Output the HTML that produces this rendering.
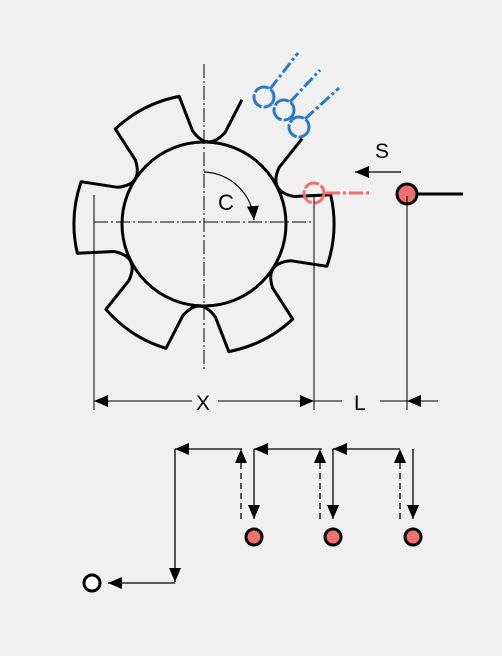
<!DOCTYPE html>
<html><head><meta charset="utf-8"><style>
html,body{margin:0;padding:0;background:#f0f0f0;}
svg{display:block;}
text{font-family:"Liberation Sans",sans-serif;}
</style></head><body>
<svg id="svg" width="502" height="656" viewBox="0 0 502 656" xmlns="http://www.w3.org/2000/svg">
<defs>
<marker id="ah" markerWidth="10" markerHeight="8" refX="10" refY="4" orient="auto" markerUnits="userSpaceOnUse"><path d="M0,0 L10,4 L0,8 z" fill="#000"/></marker>
<marker id="ahb" markerWidth="14" markerHeight="12" refX="14" refY="6" orient="auto" markerUnits="userSpaceOnUse"><path d="M0,0 L14,6 L0,12 z" fill="#000"/></marker>
</defs>
<rect width="502" height="656" fill="#f0f0f0"/>
<line x1="204" y1="64" x2="204" y2="372" stroke="#000" stroke-width="1" stroke-dasharray="14,3,2,3"/>
<line x1="94" y1="222" x2="314" y2="222" stroke="#000" stroke-width="1" stroke-dasharray="14,3,2,3"/>
<path id="gear" fill="none" stroke="#000" stroke-width="3" stroke-linejoin="round"/>
<circle cx="204" cy="224" r="82" fill="none" stroke="#000" stroke-width="3"/>
<path d="M204,172 A52,52 0 0 1 254,220" fill="none" stroke="#000" stroke-width="1.2" marker-end="url(#ahb)"/>
<text x="218" y="210" font-size="22">C</text>
<g stroke="#2a7bc4" stroke-width="3" fill="none">
<line x1="270" y1="89" x2="298" y2="53" stroke-dasharray="12,3,3,3"/>
<line x1="290" y1="102" x2="320" y2="70" stroke-dasharray="12,3,3,3"/>
<line x1="305" y1="119" x2="339" y2="88" stroke-dasharray="12,3,3,3"/>
<circle cx="264" cy="97" r="10" stroke-dasharray="16,2"/>
<circle cx="284" cy="110" r="10" stroke-dasharray="16,2"/>
<circle cx="299" cy="127" r="10" stroke-dasharray="16,2"/>
</g>
<g stroke="#f07070" stroke-width="3" fill="none">
<circle cx="314" cy="193" r="10" stroke-dasharray="16,2"/>
<line x1="326" y1="193" x2="370" y2="193" stroke-dasharray="14,3,3,3"/>
</g>
<circle cx="407" cy="194" r="10" fill="#f07070" stroke="#000" stroke-width="3"/>
<line x1="417" y1="194" x2="463" y2="194" stroke="#000" stroke-width="3"/>
<text x="375" y="158" font-size="21">S</text>
<line x1="401" y1="172" x2="355" y2="172" stroke="#000" stroke-width="1.2" marker-end="url(#ahb)"/>
<g stroke="#000" stroke-width="1">
<line x1="94" y1="195" x2="94" y2="410"/>
<line x1="314" y1="195" x2="314" y2="410"/>
<line x1="407" y1="196" x2="407" y2="410"/>
<line x1="192" y1="401" x2="94" y2="401" marker-end="url(#ahb)"/>
<line x1="218" y1="401" x2="314" y2="401" marker-end="url(#ahb)"/>
<line x1="314" y1="401" x2="342" y2="401"/>
<line x1="438" y1="401" x2="407" y2="401" marker-end="url(#ahb)"/>
<line x1="380" y1="401" x2="407" y2="401"/>
</g>
<text x="196" y="410" font-size="21">X</text>
<text x="354" y="410" font-size="21">L</text>
<g stroke="#000" stroke-width="1.3" fill="none">
<line x1="242" y1="449" x2="175" y2="449" marker-end="url(#ahb)"/>
<line x1="322" y1="449" x2="254" y2="449" marker-end="url(#ahb)"/>
<line x1="400" y1="449" x2="333" y2="449" marker-end="url(#ahb)"/>
<line x1="175" y1="449" x2="175" y2="582" marker-end="url(#ahb)"/>
<line x1="175" y1="583" x2="108" y2="583" marker-end="url(#ahb)"/>
<line x1="241" y1="519" x2="241" y2="449" stroke-dasharray="6,4" marker-end="url(#ahb)"/>
<line x1="320" y1="519" x2="320" y2="449" stroke-dasharray="6,4" marker-end="url(#ahb)"/>
<line x1="400" y1="519" x2="400" y2="449" stroke-dasharray="6,4" marker-end="url(#ahb)"/>
<line x1="254" y1="449" x2="254" y2="519" marker-end="url(#ahb)"/>
<line x1="333" y1="449" x2="333" y2="519" marker-end="url(#ahb)"/>
<line x1="413" y1="449" x2="413" y2="519" marker-end="url(#ahb)"/>
</g>
<circle cx="254" cy="537" r="8" fill="#f07070" stroke="#000" stroke-width="3"/>
<circle cx="333" cy="537" r="8" fill="#f07070" stroke="#000" stroke-width="3"/>
<circle cx="413" cy="537" r="8" fill="#f07070" stroke="#000" stroke-width="3"/>
<circle cx="92" cy="583" r="8" fill="#fff" stroke="#000" stroke-width="3"/>
</svg>
<script>
var teethAngles=[3,63,123,183,243,303];
(function(){
  var cx=204,cy=224,rb=94,rt=130,hb=20,ht=16;
  function P(r,a){a=a*Math.PI/180;return [(cx+r*Math.cos(a)).toFixed(1),(cy+r*Math.sin(a)).toFixed(1)];}
  var d="";
  for(var i=0;i<teethAngles.length;i++){
    var a=teethAngles[i];
    var b1=P(rb,a-hb),t1=P(rt,a-ht),t2=P(rt,a+ht),b2=P(rb,a+hb);
    d+=(i===0?"M":"L")+b1.join(",")+" L"+t1.join(",");
    if(i===5){d+=" M"+t2.join(",");}else{d+=" A"+rt+","+rt+" 0 0 1 "+t2.join(",");}
    d+=" L"+b2.join(",");
    var na=teethAngles[(i+1)%6]+(i===5?360:0);
    var c=P(72,(a+na)/2),nb=P(rb,na-hb);
    d+=" Q"+c.join(",")+" "+nb.join(",");
  }
  document.getElementById('gear').setAttribute('d',d);
})();
</script>
</body></html>
